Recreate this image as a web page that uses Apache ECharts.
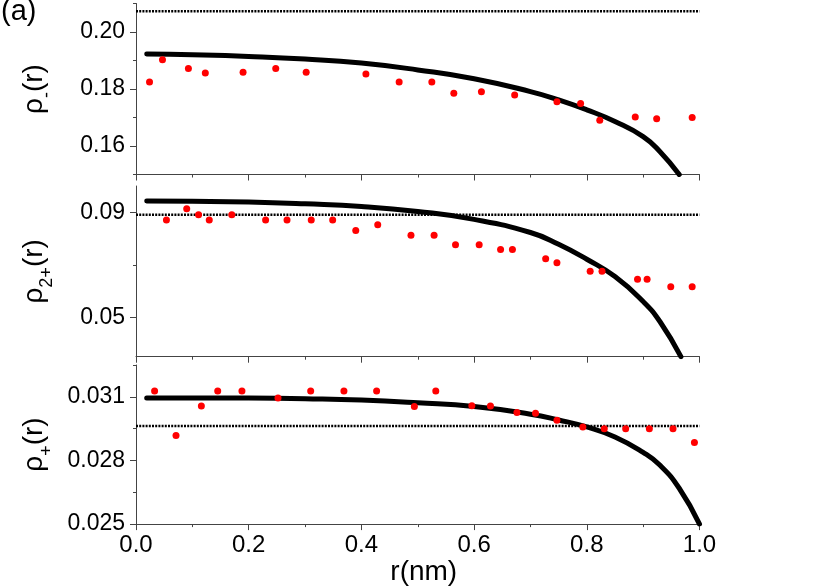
<!DOCTYPE html>
<html>
<head>
<meta charset="utf-8">
<script src="https://cdn.jsdelivr.net/npm/echarts@6/dist/echarts.min.js"></script>
<style>html,body{margin:0;padding:0;background:#fff}#c{width:830px;height:587px}</style>
</head>
<body>
<div id="c"></div>
<script>
// ---- Panel 1: rho_-(r) ----
const r1 = [0.024,0.047,0.093,0.123,0.190,0.248,0.302,0.408,0.467,0.525,0.564,0.613,0.672,0.747,0.789,0.823,0.886,0.924,0.987];
const rho1 = [0.1825,0.1903,0.1872,0.1856,0.1859,0.1872,0.1859,0.1853,0.1825,0.1825,0.1785,0.1790,0.1779,0.1755,0.1749,0.1690,0.1702,0.1696,0.1700];
const curveR1 = [0.019,0.1,0.2,0.3,0.4,0.5,0.6,0.7,0.75,0.8,0.85,0.9,0.93,0.964];
const curveRho1 = [0.1923,0.1920,0.1914,0.1905,0.1891,0.1867,0.1836,0.1791,0.1762,0.1727,0.1686,0.1633,0.1580,0.1500];
const bulk1 = 0.2073;
const ticks1 = [0.16,0.18,0.20];
const minor1 = [0.15,0.17,0.19,0.21];

// ---- Panel 2: rho_2+(r) ----
const r2 = [0.054,0.090,0.111,0.130,0.170,0.230,0.268,0.311,0.349,0.390,0.429,0.488,0.529,0.567,0.609,0.647,0.668,0.727,0.747,0.806,0.827,0.890,0.907,0.949,0.987];
const rho2 = [0.0871,0.0913,0.0891,0.0871,0.0891,0.0871,0.0871,0.0871,0.0871,0.0831,0.0852,0.0812,0.0812,0.0776,0.0776,0.0758,0.0758,0.0723,0.0708,0.0675,0.0675,0.0645,0.0645,0.0616,0.0616];
const curveR2 = [0.019,0.1,0.2,0.3,0.4,0.5,0.6,0.7,0.75,0.8,0.85,0.9,0.93,0.967];
const curveRho2 = [0.0943,0.0942,0.0939,0.0932,0.0922,0.0903,0.0873,0.0823,0.0778,0.0721,0.0655,0.0560,0.0483,0.0350];
const bulk2 = 0.0891;
const ticks2 = [0.05,0.09];
const minor2 = [0.07];

// ---- Panel 3: rho_+(r) ----
const r3 = [0.033,0.071,0.116,0.145,0.188,0.252,0.310,0.369,0.427,0.494,0.532,0.596,0.629,0.676,0.709,0.747,0.793,0.831,0.869,0.911,0.953,0.991];
const rho3 = [0.03128,0.02918,0.03057,0.03128,0.03128,0.03095,0.03128,0.03128,0.03128,0.03054,0.03128,0.03058,0.03057,0.03026,0.03022,0.02989,0.02958,0.02949,0.02949,0.02949,0.02949,0.02885];
const curveR3 = [0.019,0.1,0.2,0.3,0.4,0.5,0.6,0.7,0.75,0.8,0.85,0.9,0.93,0.964,1.0];
const curveRho3 = [0.03095,0.03095,0.03094,0.03091,0.03085,0.03072,0.03054,0.03018,0.02991,0.02958,0.02911,0.02838,0.02777,0.02669,0.02500];
const bulk3 = 0.02962;
const ticks3 = [0.025,0.028,0.031];
const minor3 = [0.0265,0.0295,0.0325];

const xMajor = [0,0.2,0.4,0.6,0.8,1.0];
const xMinor = [0.1,0.3,0.5,0.7,0.9];

const FONT = 'Liberation Sans, Arial, sans-serif';
const AX = '#444';
const zip = (a,b) => a.map((v,i)=>[v,b[i]]);

const grids = [
  {left:136, right:130.5, top:3.5, height:171},
  {left:136, right:130.5, top:186, height:170.7},
  {left:136, right:130.5, top:365, height:163.3}
];
const yRanges = [[0.15,0.21],[0.035,0.10],[0.025,0.0325]];
const yMaj = [ticks1,ticks2,ticks3];
const yMin = [minor1,minor2,minor3];
const yDec = [2,2,3];
const yNames = ['{r|ρ}{s|-}{r|(r)}','{r|ρ}{s|2+}{r|(r)}','{r|ρ}{s|+}{r|(r)}'];
const bulks = [bulk1,bulk2,bulk3];
const pts = [zip(r1,rho1),zip(r2,rho2),zip(r3,rho3)];
const curves = [zip(curveR1,curveRho1),zip(curveR2,curveRho2),zip(curveR3,curveRho3)];

const xAxis = [], yAxis = [], series = [];
for (let i=0;i<3;i++){
  const last = i===2;
  xAxis.push({type:'value',gridIndex:i,min:0,max:1,position:'bottom',
    axisLine:{show:true,onZero:false,lineStyle:{color:AX,width:1}},
    axisTick:{show:true,customValues:xMajor,length:6,lineStyle:{color:AX}},
    axisLabel:{show:last,customValues:xMajor,formatter:v=>v.toFixed(1),color:'#000',fontSize:24,fontFamily:FONT,margin:9},
    splitLine:{show:false},
    name:last?'r(nm)':'',nameLocation:'middle',nameGap:30,
    nameTextStyle:{fontSize:28,fontFamily:FONT,color:'#000',padding:[0,0,0,12]}
  });
  xAxis.push({type:'value',gridIndex:i,min:0,max:1,position:'bottom',
    axisLine:{show:false,onZero:false},
    axisTick:{show:true,customValues:xMinor,length:3,lineStyle:{color:AX}},
    axisLabel:{show:false},splitLine:{show:false}
  });
  yAxis.push({type:'value',gridIndex:i,min:yRanges[i][0],max:yRanges[i][1],position:'left',
    axisLine:{show:true,onZero:false,lineStyle:{color:AX,width:1}},
    axisTick:{show:true,customValues:yMaj[i],length:6,lineStyle:{color:AX}},
    axisLabel:{customValues:yMaj[i],formatter:(d=>v=>v.toFixed(d))(yDec[i]),color:'#000',fontSize:23,fontFamily:FONT,margin:11},
    splitLine:{show:false},
    name:yNames[i],nameLocation:'middle',nameRotate:90,nameGap:80,
    nameTextStyle:{fontFamily:FONT,color:'#000',rich:{
      r:{fontSize:28,fontFamily:FONT,color:'#000',lineHeight:36,verticalAlign:'top'},
      s:{fontSize:18,fontFamily:FONT,color:'#000',lineHeight:36,verticalAlign:'bottom'}
    }}
  });
  yAxis.push({type:'value',gridIndex:i,min:yRanges[i][0],max:yRanges[i][1],position:'left',
    axisLine:{show:false,onZero:false},
    axisTick:{show:true,customValues:yMin[i],length:3,lineStyle:{color:AX}},
    axisLabel:{show:false},splitLine:{show:false}
  });
  series.push({type:'line',xAxisIndex:2*i,yAxisIndex:2*i,data:[[0,bulks[i]],[1,bulks[i]]],
    showSymbol:false,symbol:'none',lineStyle:{color:'#000',width:2.5,type:[2,1.2]},z:2,silent:true,animation:false});
  series.push({type:'line',xAxisIndex:2*i,yAxisIndex:2*i,data:curves[i],smooth:true,
    showSymbol:false,symbol:'none',lineStyle:{color:'#000',width:5,cap:'round'},z:3,animation:false,clip:true});
  series.push({type:'scatter',xAxisIndex:2*i,yAxisIndex:2*i,data:pts[i],symbol:'circle',symbolSize:7,
    itemStyle:{color:'#ff0000',opacity:1},z:4,animation:false});
}

const chart = echarts.init(document.getElementById('c'),null,{renderer:'canvas'});
chart.setOption({
  backgroundColor:'#fff',
  animation:false,
  grid:grids,
  xAxis:xAxis,
  yAxis:yAxis,
  series:series,
  graphic:[{type:'text',left:1,top:-3,style:{text:'(a)',fontSize:29,fontFamily:FONT,fill:'#000'}}]
});
</script>
</body>
</html>
